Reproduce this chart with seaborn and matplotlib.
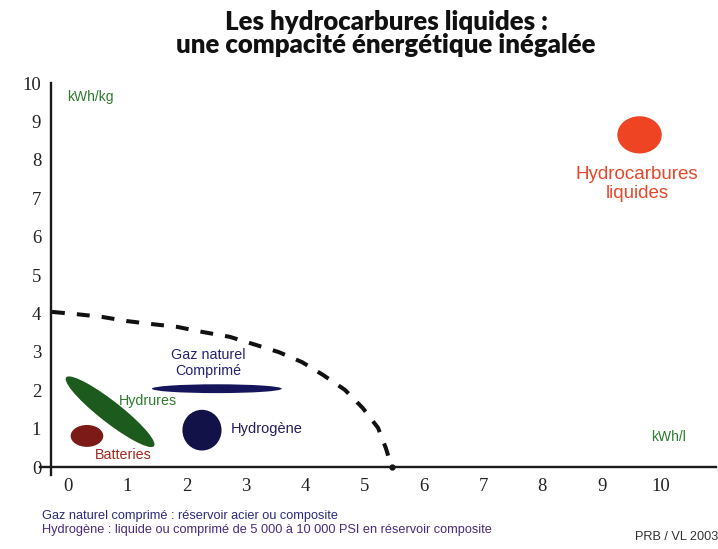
import matplotlib
matplotlib.use("Agg")
import matplotlib.pyplot as plt
from matplotlib.patches import Ellipse
import pandas as pd
import seaborn as sns

# energy zones (x = kWh/l, y = kWh/kg)
zone_names = ["Batteries", "Hydrures", "Gaz naturel\nComprimé", "Hydrogène", "Hydrocarbures\nliquides"]
zone_x = [0.32, 0.71, 2.51, 2.26, 9.64]
zone_y = [0.81, 1.44, 2.04, 0.96, 8.65]
zone_w = [0.55, 2.33, 2.19, 0.66, 0.75]
zone_h = [0.57, 0.45, 0.23, 1.06, 0.97]
zone_angle = [0, -51.3, 0, 0, 0]

# where each zone is labelled
label_x = [0.93, 1.35, 2.36, 3.35, 9.60]
label_y = [0.31, 1.72, 2.71, 0.98, 7.37]

# dashed frontier
frontier_x = [-0.27, 0.15, 0.57, 1.00, 1.43, 1.84, 2.26, 2.73, 3.17, 3.56, 3.95, 4.30, 4.67, 4.97, 5.23, 5.36, 5.46]
frontier_y = [4.04, 3.98, 3.91, 3.80, 3.72, 3.65, 3.52, 3.39, 3.18, 2.99, 2.73, 2.40, 2.01, 1.54, 1.02, 0.50, 0.00]

ticks = list(range(0, 11))

zone_colors = ["#7c1a17", "#1d5a1d", "#15155c", "#121249", "#ef4423"]
label_colors = ["#a3271f", "#2f7d2f", "#22227a", "#261c5e", "#e8472b"]
label_sizes = [10.3, 10.3, 10.3, 10.5, 13.5]

sns.set_theme(style="white")
plt.rcParams["font.family"] = ["Liberation Sans", "DejaVu Sans"]

fig = plt.figure(figsize=(7.18, 5.49), dpi=100)
ax = fig.add_axes([40 / 718, 0.1353, 676 / 718, 0.7135])

frontier = pd.DataFrame({"x": frontier_x, "y": frontier_y})
sns.lineplot(data=frontier, x="x", y="y", sort=False, ax=ax, color="#111111",
             linewidth=2.9, dashes=False)
ax.lines[0].set_dashes((3.2, 3.0))
ax.plot(frontier_x[-1], frontier_y[-1], "o", color="#111111", markersize=3.5)

for i in range(len(zone_names)):
    ax.add_patch(Ellipse((zone_x[i], zone_y[i]), zone_w[i], zone_h[i],
                         angle=zone_angle[i], facecolor=zone_colors[i],
                         edgecolor="none", zorder=3))
    ax.text(label_x[i], label_y[i], zone_names[i], color=label_colors[i],
            fontsize=label_sizes[i], ha="center", va="center", linespacing=1.15)

ax.text(-0.02, 9.64, "kWh/kg", color="#2e7a2e", fontsize=10, ha="left", va="center")
ax.text(10.13, 0.77, "kWh/l", color="#2e7a2e", fontsize=10, ha="center", va="center")

ax.set_xlim(-0.472, 10.93)
ax.set_ylim(-0.2, 10.0)
ax.set_xticks(ticks)
ax.set_yticks(ticks)
ax.tick_params(axis="both", length=0, labelsize=13.5, labelcolor="#222222",
               labelfontfamily="Liberation Serif")
ax.tick_params(axis="x", pad=8)
ax.tick_params(axis="y", pad=7)
ax.set_xlabel("")
ax.set_ylabel("")

for side in ["top", "right"]:
    ax.spines[side].set_visible(False)
ax.spines["bottom"].set_position(("data", 0))
ax.spines["left"].set_position(("data", -0.287))
for side in ["bottom", "left"]:
    ax.spines[side].set_linewidth(1.7)
    ax.spines[side].set_color("#1a1a1a")
ax.patch.set_alpha(0)

# title
fig.text(386 / 718, 1 - 22 / 549, "Les hydrocarbures liquides :", ha="center", va="center",
         family="Lato", fontweight="heavy", fontsize=18.5, color="#111111")
fig.text(386 / 718, 1 - 45 / 549, "une compacité énergétique inégalée", ha="center", va="center",
         family="Lato", fontweight="heavy", fontsize=18.5, color="#111111")

# notes
fig.text(42 / 718, 1 - 516 / 549, "Gaz naturel comprimé : réservoir acier ou composite",
         ha="left", va="center", fontsize=9.2, color="#2a2a80")
fig.text(42 / 718, 1 - 530 / 549,
         "Hydrogène : liquide ou comprimé de 5 000 à 10 000 PSI en réservoir composite",
         ha="left", va="center", fontsize=9.2, color="#4a2a80")
fig.text(635 / 718, 1 - 537 / 549, "PRB / VL 2003", ha="left", va="center",
         fontsize=9.2, color="#333333")

fig.savefig("out.png", dpi=100, facecolor="white")
